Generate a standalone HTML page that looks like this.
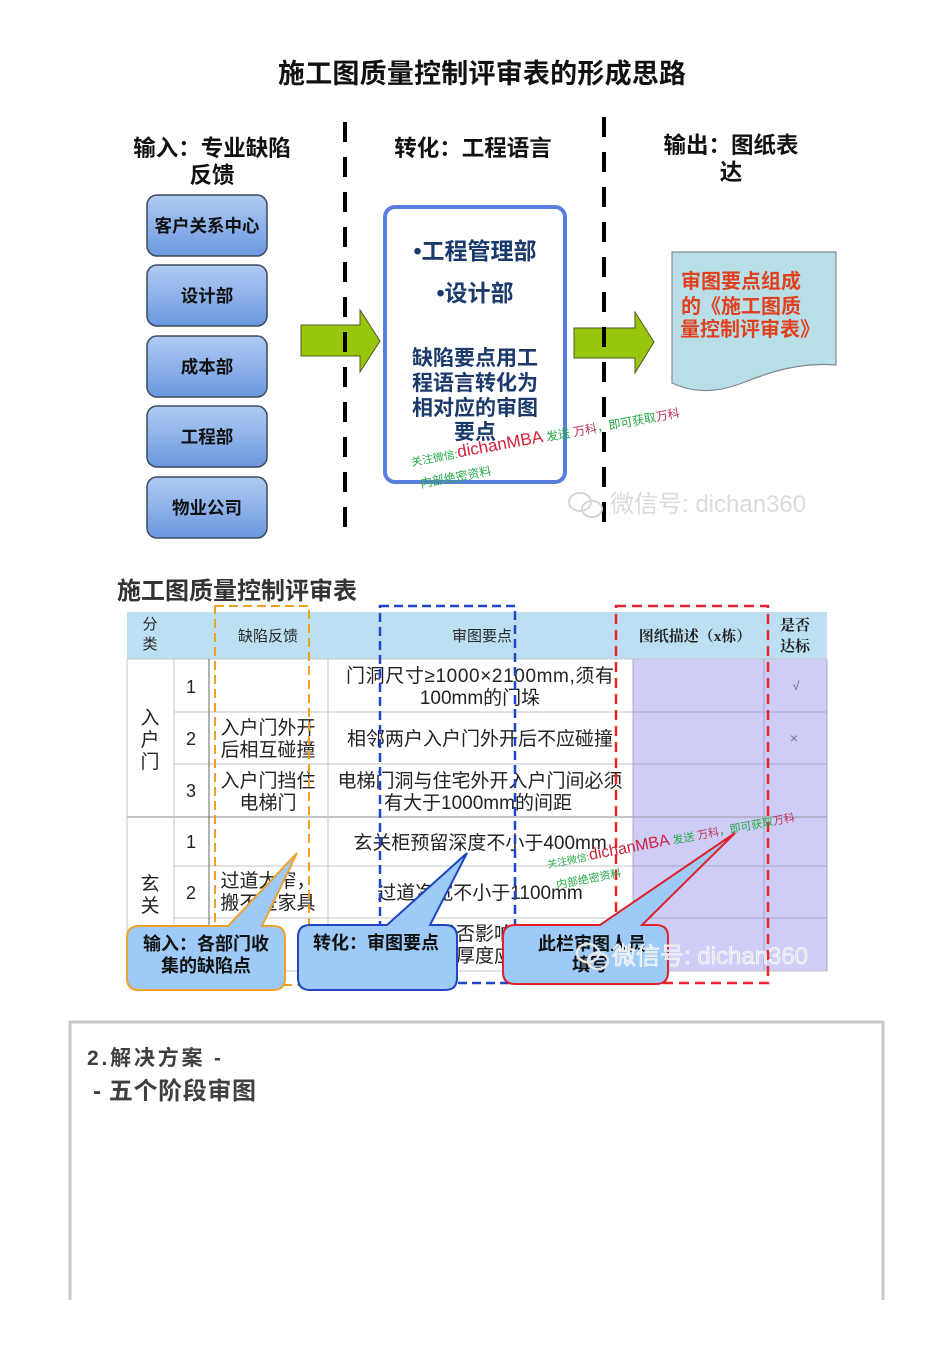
<!DOCTYPE html>
<html>
<head>
<meta charset="utf-8">
<style>
html,body{margin:0;padding:0;background:#fff;}
svg{display:block;}
.s{font-family:"Liberation Sans","Noto Sans CJK SC",sans-serif;}
.sf{font-family:"Liberation Serif","Noto Serif CJK SC",serif;}
</style>
</head>
<body>
<svg width="950" height="1345" viewBox="0 0 950 1345" xmlns="http://www.w3.org/2000/svg" class="s">
<defs>
<linearGradient id="bg" x1="0" y1="0" x2="0" y2="1">
<stop offset="0" stop-color="#b0cbf3"/>
<stop offset="1" stop-color="#6b98e0"/>
</linearGradient>
</defs>

<!-- Title -->
<text x="482" y="83" font-size="27" font-weight="bold" fill="#111" text-anchor="middle" textLength="408" lengthAdjust="spacing">施工图质量控制评审表的形成思路</text>

<!-- Headings -->
<text x="212" y="156" font-size="22.5" font-weight="bold" fill="#111" text-anchor="middle">输入：专业缺陷</text>
<text x="212" y="183" font-size="22.5" font-weight="bold" fill="#111" text-anchor="middle">反馈</text>
<text x="473" y="156" font-size="22.5" font-weight="bold" fill="#111" text-anchor="middle">转化：工程语言</text>
<text x="731" y="153" font-size="22.5" font-weight="bold" fill="#111" text-anchor="middle">输出：图纸表</text>
<text x="731" y="180" font-size="22.5" font-weight="bold" fill="#111" text-anchor="middle">达</text>

<!-- Left boxes -->
<g stroke="#3d4a5c" stroke-width="1.5" fill="url(#bg)">
<rect x="147" y="195" width="120" height="61" rx="10"/>
<rect x="147" y="265" width="120" height="61" rx="10"/>
<rect x="147" y="336" width="120" height="61" rx="10"/>
<rect x="147" y="406" width="120" height="61" rx="10"/>
<rect x="147" y="477" width="120" height="61" rx="10"/>
</g>
<g font-size="17.5" font-weight="bold" fill="#111" text-anchor="middle">
<text x="207" y="232">客户关系中心</text>
<text x="207" y="302">设计部</text>
<text x="207" y="373">成本部</text>
<text x="207" y="443">工程部</text>
<text x="207" y="514">物业公司</text>
</g>

<!-- Green arrows -->
<path d="M301,325 H360 V310 L380,341 L360,372 V356 H301 Z" fill="#97c60c" stroke="#4f5a2a" stroke-width="1"/>
<path d="M574,328 H635 V312 L654,342 L635,373 V358 H574 Z" fill="#97c60c" stroke="#4f5a2a" stroke-width="1"/>

<!-- Middle box -->
<rect x="385" y="207" width="180" height="275" rx="10" fill="#fff" stroke="#5a7ee0" stroke-width="4"/>
<g font-weight="bold" fill="#1b3a6b" text-anchor="middle">
<text x="475" y="259" font-size="23">•工程管理部</text>
<text x="475" y="301" font-size="23">•设计部</text>
<text x="475" y="365" font-size="21">缺陷要点用工</text>
<text x="475" y="390" font-size="21">程语言转化为</text>
<text x="475" y="415" font-size="21">相对应的审图</text>
<text x="475" y="439" font-size="21">要点</text>
</g>

<!-- Output document -->
<path d="M672,252 L836,252 L836,365 C800,362 770,372 745,382 C725,390 700,396 672,383 Z" fill="#b8dee8" stroke="#7f8a90" stroke-width="1.2"/>
<g font-size="20" font-weight="bold" fill="#e2401c">
<text x="681" y="288">审图要点组成</text>
<text x="681" y="313">的《施工图质</text>
<text x="680" y="336">量控制评审表》</text>
</g>

<!-- Dashed vertical lines -->
<line x1="345" y1="122" x2="345" y2="535" stroke="#000" stroke-width="4" stroke-dasharray="20 15"/>
<line x1="604" y1="117" x2="604" y2="528" stroke="#000" stroke-width="4" stroke-dasharray="20 15"/>

<!-- Top watermark -->
<g transform="rotate(-10.4 412 466)">
<text x="412" y="466"><tspan font-size="11" fill="#22aa44">关注微信:</tspan><tspan font-size="17" fill="#d0203a">dichanMBA</tspan><tspan font-size="12" fill="#22aa44"> 发送 </tspan><tspan font-size="12" fill="#c03050">万科</tspan><tspan font-size="12" fill="#22aa44">，即可获取</tspan><tspan font-size="12" fill="#c03050">万科</tspan></text>
<text x="417" y="489" font-size="12" fill="#22aa44">内部绝密资料</text>
</g>

<!-- WeChat watermark top -->
<g fill="none" stroke="#d6d6d6" stroke-width="2">
<ellipse cx="580" cy="502" rx="11" ry="9"/>
<ellipse cx="592" cy="509" rx="10" ry="8"/>
</g>
<text x="610" y="512" font-size="24" fill="#dadada">微信号: dichan360</text>

<!-- Table title -->
<text x="117" y="599" font-size="24" font-weight="bold" fill="#333">施工图质量控制评审表</text>

<!-- Table header -->
<rect x="127" y="612" width="700" height="47" fill="#bddff2"/>
<!-- purple area -->
<rect x="633" y="659" width="194" height="312" fill="#cdcdf7"/>

<!-- grid lines -->
<g stroke="#c4c4c4" stroke-width="1">
<line x1="127" y1="659" x2="827" y2="659"/>
<line x1="174" y1="712" x2="827" y2="712"/>
<line x1="174" y1="764" x2="827" y2="764"/>
<line x1="127" y1="817" x2="827" y2="817" stroke="#b0b0b0" stroke-width="1.5"/>
<line x1="174" y1="866" x2="827" y2="866"/>
<line x1="174" y1="918" x2="827" y2="918"/>
<line x1="127" y1="971" x2="827" y2="971"/>
<line x1="127" y1="659" x2="127" y2="971"/>
<line x1="174" y1="659" x2="174" y2="971"/>
<line x1="328" y1="659" x2="328" y2="971"/>
<line x1="633" y1="659" x2="633" y2="971" stroke="#a8a8c8"/>
<line x1="764" y1="659" x2="764" y2="971" stroke="#a8a8c8"/>
<line x1="827" y1="659" x2="827" y2="971" stroke="#a8a8c8"/>
</g>
<line x1="209" y1="659" x2="209" y2="971" stroke="#666" stroke-width="1"/>
<g stroke="#a8a8c8" stroke-width="1">
<line x1="633" y1="712" x2="827" y2="712"/>
<line x1="633" y1="764" x2="827" y2="764"/>
<line x1="633" y1="817" x2="827" y2="817"/>
<line x1="633" y1="866" x2="827" y2="866"/>
<line x1="633" y1="918" x2="827" y2="918"/>
</g>

<!-- header text -->
<g font-size="15" fill="#2a2a2a" text-anchor="middle">
<text x="150" y="629">分</text>
<text x="150" y="649">类</text>
<text x="268" y="641">缺陷反馈</text>
<text x="482" y="641">审图要点</text>
</g>
<g class="sf" font-size="15" fill="#222" text-anchor="middle" font-weight="bold">
<text x="695" y="641">图纸描述（x栋）</text>
<text x="795" y="630">是否</text>
<text x="795" y="651">达标</text>
</g>

<!-- body text -->
<g font-size="19" fill="#222" text-anchor="middle">
<text x="150" y="724">入</text>
<text x="150" y="746">户</text>
<text x="150" y="768">门</text>
<text x="150" y="890">玄</text>
<text x="150" y="912">关</text>
<text x="191" y="693" font-size="18">1</text>
<text x="191" y="745" font-size="18">2</text>
<text x="191" y="797" font-size="18">3</text>
<text x="191" y="848" font-size="18">1</text>
<text x="191" y="899" font-size="18">2</text>
<text x="268" y="734">入户门外开</text>
<text x="268" y="756">后相互碰撞</text>
<text x="268" y="787">入户门挡住</text>
<text x="268" y="809">电梯门</text>
<text x="268" y="887">过道太窄，</text>
<text x="268" y="909">搬不进家具</text>
<text x="480" y="682" textLength="268" lengthAdjust="spacing">门洞尺寸≥1000×2100mm,须有</text>
<text x="480" y="704">100mm的门垛</text>
<text x="480" y="745">相邻两户入户门外开后不应碰撞</text>
<text x="480" y="787">电梯门洞与住宅外开入户门间必须</text>
<text x="478" y="809">有大于1000mm的间距</text>
<text x="480" y="849">玄关柜预留深度不小于400mm</text>
<text x="480" y="899">过道净宽不小于1100mm</text>
<text x="437" y="940" text-anchor="start">是否影响</text>
<text x="437" y="962" text-anchor="start">墙厚度应</text>
<text x="796" y="690" font-size="12" fill="#666">√</text>
<text x="794" y="743" font-size="14" fill="#777">×</text>
</g>

<!-- dashed overlays -->
<rect x="215" y="606" width="94" height="379" fill="none" stroke="#f0a020" stroke-width="2" stroke-dasharray="9 5"/>
<rect x="380" y="606" width="135" height="377" fill="none" stroke="#1f45c8" stroke-width="2.5" stroke-dasharray="9 5"/>
<rect x="616" y="606" width="152" height="377" fill="none" stroke="#e8262a" stroke-width="2.5" stroke-dasharray="10 6"/>

<!-- table watermark -->
<g transform="rotate(-10.8 548 868)">
<text x="548" y="868"><tspan font-size="10" fill="#22aa44">关注微信:</tspan><tspan font-size="16" fill="#d0203a">dichanMBA</tspan><tspan font-size="11" fill="#22aa44"> 发送 </tspan><tspan font-size="11" fill="#c03050">万科</tspan><tspan font-size="11" fill="#22aa44">，即可获取</tspan><tspan font-size="11" fill="#c03050">万科</tspan></text>
<text x="553" y="890" font-size="11" fill="#22aa44">内部绝密资料</text>
</g>

<!-- Callouts -->
<path d="M139,926 H228 L297,853 L262,926 H273 Q285,926 285,938 V978 Q285,990 273,990 H139 Q127,990 127,978 V938 Q127,926 139,926 Z" fill="#9dcaf6" stroke="#f0a030" stroke-width="2"/>
<text x="206" y="950" font-size="18" font-weight="bold" fill="#111" text-anchor="middle">输入：各部门收</text>
<text x="206" y="972" font-size="18" font-weight="bold" fill="#111" text-anchor="middle">集的缺陷点</text>

<path d="M310,925 H387 L467,853 L430,925 H445 Q457,925 457,937 V978 Q457,990 445,990 H310 Q298,990 298,978 V937 Q298,925 310,925 Z" fill="#9dcaf6" stroke="#1f45c0" stroke-width="2"/>
<text x="376" y="949" font-size="18" font-weight="bold" fill="#111" text-anchor="middle">转化：审图要点</text>

<path d="M515,925 H600 L735,833 L642,925 H656 Q668,925 668,937 V972 Q668,984 656,984 H515 Q503,984 503,972 V937 Q503,925 515,925 Z" fill="#9dcaf6" stroke="#e0202a" stroke-width="2"/>
<text x="592" y="950" font-size="18" font-weight="bold" fill="#111" text-anchor="middle">此栏审图人员</text>
<text x="590" y="971" font-size="18" font-weight="bold" fill="#111" text-anchor="middle">填写</text>

<!-- WeChat watermark bottom -->
<g fill="none" stroke="#e6e6e6" stroke-width="2.5">
<ellipse cx="588" cy="953" rx="11" ry="9"/>
<ellipse cx="598" cy="961" rx="10" ry="8"/>
</g>
<text x="612" y="964" font-size="24" fill="#e2e2e2" stroke="#ffffff" stroke-width="0.6">微信号: dichan360</text>

<!-- Bottom panel -->
<path d="M70,1300 V1022 H883 V1300" fill="none" stroke="#c8c8c8" stroke-width="3"/>
<text x="87" y="1065" font-size="21" font-weight="bold" fill="#404040" textLength="134" lengthAdjust="spacing">2.解决方案 -</text>
<text x="93" y="1099" font-size="24" font-weight="bold" fill="#404040" textLength="163" lengthAdjust="spacing">- 五个阶段审图</text>
</svg>
</body>
</html>
